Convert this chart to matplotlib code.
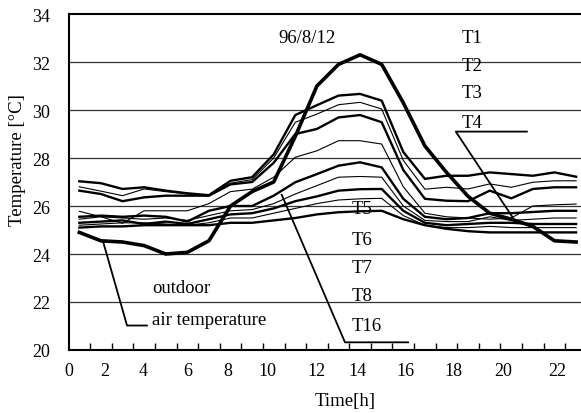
import matplotlib
matplotlib.use("Agg")
import matplotlib.pyplot as plt
from matplotlib.ticker import FixedLocator, NullFormatter

plt.rcParams['font.family'] = ['Liberation Serif', 'DejaVu Serif']

# hourly readings, one value per hour (plotted at mid-hour)
hours = [0.5, 1.5, 2.5, 3.5, 4.5, 5.5, 6.5, 7.5, 8.5, 9.5, 10.5, 11.5,
         12.5, 13.5, 14.5, 15.5, 16.5, 17.5, 18.5, 19.5, 20.5, 21.5, 22.5, 23.5]

outdoor = [24.9, 24.55, 24.5, 24.35, 24.0, 24.07, 24.55, 26.0, 26.6, 27.0, 28.9, 31.0,
           31.9, 32.3, 31.9, 30.3, 28.5, 27.4, 26.4, 25.7, 25.45, 25.15, 24.55, 24.5]
t1 = [27.03, 26.95, 26.71, 26.78, 26.64, 26.53, 26.45, 27.05, 27.2, 28.15, 29.79, 30.2,
      30.6, 30.67, 30.39, 28.25, 27.13, 27.26, 27.26, 27.4, 27.33, 27.26, 27.4, 27.22]
t2 = [26.8, 26.62, 26.43, 26.71, 26.6, 26.5, 26.45, 26.95, 27.1, 28.0, 29.49, 29.83,
      30.22, 30.32, 30.04, 27.9, 26.7, 26.78, 26.71, 26.92, 26.78, 26.99, 27.05, 27.05]
t3 = [26.64, 26.5, 26.2, 26.36, 26.43, 26.43, 26.43, 26.9, 27.0, 27.8, 29.0, 29.21,
      29.69, 29.79, 29.49, 27.5, 26.3, 26.22, 26.2, 26.64, 26.32, 26.71, 26.78, 26.78]
t4 = [25.78, 25.55, 25.28, 25.8, 25.8, 25.8, 26.1, 26.6, 26.7, 27.2, 28.03, 28.3,
      28.72, 28.72, 28.58, 26.8, 25.7, 25.55, 25.5, 25.45, 25.5, 26.0, 26.05, 26.08]
t5 = [25.55, 25.6, 25.55, 25.6, 25.55, 25.35, 25.8, 26.0, 26.0, 26.43, 26.99, 27.33,
      27.68, 27.82, 27.61, 26.3, 25.55, 25.45, 25.5, 25.7, 25.7, 25.75, 25.8, 25.8]
t6 = [25.45, 25.55, 25.5, 25.45, 25.5, 25.4, 25.6, 25.8, 25.85, 26.1, 26.5, 26.85,
      27.2, 27.23, 27.2, 26.0, 25.4, 25.35, 25.35, 25.55, 25.4, 25.45, 25.5, 25.5]
t7 = [25.3, 25.35, 25.4, 25.25, 25.35, 25.25, 25.45, 25.65, 25.7, 25.9, 26.2, 26.4,
      26.64, 26.7, 26.71, 25.8, 25.3, 25.2, 25.25, 25.3, 25.3, 25.25, 25.25, 25.25]
t8 = [25.2, 25.25, 25.3, 25.3, 25.25, 25.2, 25.3, 25.5, 25.5, 25.7, 25.9, 26.1,
      26.25, 26.3, 26.32, 25.6, 25.2, 25.1, 25.1, 25.15, 25.1, 25.1, 25.1, 25.1]
t16 = [25.1, 25.15, 25.15, 25.2, 25.2, 25.2, 25.2, 25.3, 25.3, 25.4, 25.5, 25.65,
       25.74, 25.78, 25.8, 25.45, 25.2, 25.05, 24.95, 24.9, 24.9, 24.9, 24.9, 24.9]

xtick_labels = ['0', '2', '4', '6', '8', '10', '12', '14', '16', '18', '20', '22']
ytick_values = [20, 22, 24, 26, 28, 30, 32, 34]

fig = plt.figure(figsize=(5.81, 4.14), dpi=100)
# axes runs past the right edge of the figure, as in the scanned original
ax = fig.add_axes([68.5 / 581, 63 / 414, 518.4 / 581, 336 / 414])

for y in ytick_values[1:-1]:
    ax.axhline(y, color='#333333', lw=0.9, zorder=1)

# alternating thick / thin sensor lines
thick, thin = 1.7, 0.8
ax.plot(hours, t1, color='black', lw=thick, zorder=3)
ax.plot(hours, t2, color='black', lw=thin, zorder=3)
ax.plot(hours, t3, color='black', lw=thick, zorder=3)
ax.plot(hours, t4, color='black', lw=thin, zorder=3)
ax.plot(hours, t5, color='black', lw=thick, zorder=3)
ax.plot(hours, t6, color='black', lw=thin, zorder=3)
ax.plot(hours, t7, color='black', lw=thick, zorder=3)
ax.plot(hours, t8, color='black', lw=thin, zorder=3)
ax.plot(hours, t16, color='black', lw=thick, zorder=3)
ax.plot(hours, outdoor, color='black', lw=2.6, zorder=4)

ax.set_xlim(0, 24)
ax.set_ylim(20, 34)

# labels sit where the original put them by hand
ax.xaxis.set_major_locator(FixedLocator([0.0, 1.69, 3.45, 5.53, 7.38, 9.21,
                                         11.46, 13.4, 15.58, 17.8, 20.12, 22.62]))
ax.set_xticklabels(xtick_labels)
ax.xaxis.set_minor_locator(FixedLocator(list(range(1, 24))))
ax.xaxis.set_minor_formatter(NullFormatter())
ax.tick_params(axis='x', which='major', length=0, pad=9, labelsize=13)
ax.tick_params(axis='x', which='minor', direction='in', length=5, width=1)
ax.set_yticks(ytick_values)
ax.tick_params(axis='y', length=0, pad=13, labelsize=13)

for side in ['left', 'top', 'bottom', 'right']:
    ax.spines[side].set_linewidth(1.5)

ax.set_xlabel('Time[h]', fontsize=13.5)
ax.xaxis.set_label_coords(0.533, -0.125)
ax.set_ylabel('Temperature [°C]', fontsize=13.5)
ax.yaxis.set_label_coords(-0.082, 0.568)

fs = 13.5
ax.text(11.04, 33.04, '96/8/12', ha='center', va='center', fontsize=fs)
for lab, y in zip(['T1', 'T2', 'T3', 'T4'], [33.04, 31.87, 30.75, 29.46]):
    ax.text(18.2, y, lab, ha='left', va='center', fontsize=fs)
for lab, y in zip(['T5', 'T6', 'T7', 'T8', 'T16'], [25.88, 24.6, 23.45, 22.25, 21.04]):
    ax.text(13.1, y, lab, ha='left', va='center', fontsize=fs)
ax.text(3.87, 22.62, 'outdoor', ha='left', va='center', fontsize=fs)
ax.text(3.87, 21.29, 'air temperature', ha='left', va='center', fontsize=fs)

# leader lines
ax.plot([21.22, 17.93, 20.58], [29.1, 29.1, 25.5], color='black', lw=1.3, zorder=5)
ax.plot([15.72, 12.8, 9.87], [20.32, 20.32, 26.47], color='black', lw=1.3, zorder=5)
ax.plot([1.61, 2.71, 3.63], [24.49, 21.02, 21.02], color='black', lw=1.3, zorder=5)

fig.savefig('out.png', dpi=100)
